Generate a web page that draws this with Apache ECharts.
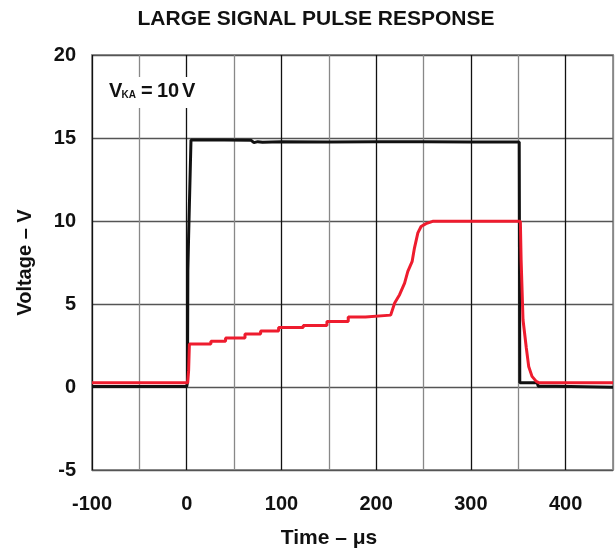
<!DOCTYPE html>
<html><head><meta charset="utf-8">
<script src="https://cdn.jsdelivr.net/npm/echarts@6/dist/echarts.min.js"></script>
<style>html,body{margin:0;padding:0;background:#fff}#c{width:616px;height:554px}</style>
</head><body><div id="c"></div>
<script>
const xTicks = [-100, 0, 100, 200, 300, 400];
const yTicks = [-5, 0, 5, 10, 15, 20];
const blackTime = [-100, 0, 0.8, 1.2, 2, 4.5, 40, 68, 71, 75, 80, 100, 150, 200, 250, 300, 351, 351.6, 370, 371, 390, 392, 450];
const blackVolt = [0.03, 0.03, 0.3, 7, 9.1, 14.88, 14.88, 14.86, 14.72, 14.78, 14.75, 14.78, 14.76, 14.77, 14.77, 14.76, 14.76, 0.25, 0.25, 0.05, 0.05, -0.02, -0.02];
const redTime = [-100, 1, 2, 2.8, 25.5, 25.5, 41, 41, 61.5, 61.5, 78, 78, 97, 97, 123, 123, 148, 148, 170.5, 170.5, 188.7, 188.7, 215.3, 219.5, 224.7, 230, 233.4, 238, 240.4, 244, 247.4, 252.6, 259.6, 352.2, 353, 355, 358.5, 361, 364.5, 369, 372, 450];
const redVolt = [0.25, 0.25, 1.0, 2.59, 2.59, 2.75, 2.75, 2.95, 2.95, 3.2, 3.2, 3.38, 3.38, 3.58, 3.58, 3.71, 3.71, 3.95, 3.95, 4.22, 4.22, 4.33, 4.33, 5.06, 5.56, 6.26, 6.96, 7.57, 8.37, 9.28, 9.67, 9.84, 9.98, 9.98, 7.67, 4.05, 2.35, 1.24, 0.64, 0.34, 0.25, 0.25];

const FONT = '"Liberation Sans", Arial, Helvetica, sans-serif';
const pairs = (t, v) => t.map((x, i) => [x, v[i]]);
const txt = (s, x, y, size, align) => ({
  type: 'text', x: x, y: y, z: 11,
  style: {text: s, font: 'bold ' + size + 'px ' + FONT, fill: '#111', textAlign: align || 'left', textVerticalAlign: 'middle'}
});
const chart = echarts.init(document.getElementById('c'));
chart.setOption({
  animation: false,
  backgroundColor: '#fff',
  grid: {left: 92, right: 1, top: 55, bottom: 84, show: true, borderColor: '#999', borderWidth: 2},
  xAxis: {
    type: 'value', min: -100, max: 450, interval: 50,
    axisLine: {show: false}, axisTick: {show: false},
    axisLabel: {
      margin: 24, fontFamily: FONT, fontSize: 20, fontWeight: 'bold', color: '#111',
      formatter: v => xTicks.includes(v) ? String(v) : ''
    },
    splitLine: {show: true, lineStyle: {color: ['#111', '#888'], width: 1.3}}
  },
  yAxis: {
    type: 'value', min: -5, max: 20, interval: 5,
    axisLine: {show: false}, axisTick: {show: false},
    axisLabel: {
      margin: 16, fontFamily: FONT, fontSize: 20, fontWeight: 'bold', color: '#111',
      formatter: v => yTicks.includes(v) ? String(v) : ''
    },
    splitLine: {show: true, lineStyle: {color: '#555', width: 1.3}},
    name: 'Voltage – V', nameLocation: 'middle', nameGap: 57, nameRotate: 90,
    nameTextStyle: {fontFamily: FONT, fontSize: 20, fontWeight: 'bold', color: '#111'}
  },
  graphic: [
    txt('LARGE SIGNAL PULSE RESPONSE', 316, 19, 21, 'center'),
    {type: 'rect', shape: {x: 102, y: 77, width: 98, height: 31}, style: {fill: '#fff'}, z: 10},
    txt('V', 109, 91, 20),
    txt('KA', 121.5, 95, 10),
    txt('=', 141, 91, 20),
    txt('10', 157, 91, 20),
    txt('V', 182, 91, 20),
    txt('Time – μs', 329, 538, 21, 'center')
  ],
  series: [
    {type: 'line', data: pairs(blackTime, blackVolt), showSymbol: false, lineStyle: {color: '#111', width: 3}, z: 3},
    {type: 'line', data: pairs(redTime, redVolt), showSymbol: false, lineStyle: {color: '#ee1c2e', width: 3}, z: 4}
  ]
});
</script></body></html>
